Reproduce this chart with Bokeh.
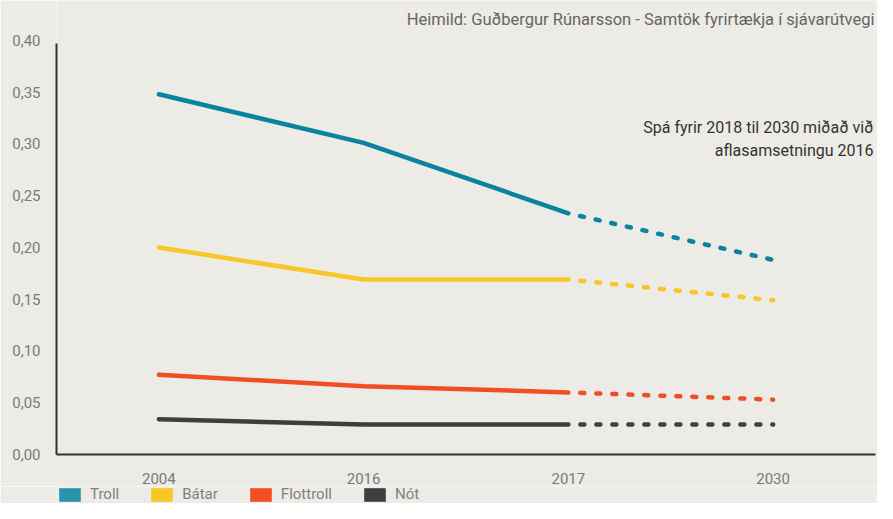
from bokeh.plotting import figure
from bokeh.layouts import column
from bokeh.models import FactorRange, Range1d, FixedTicker, Label, Legend, LegendItem
from bokeh.embed import file_html
from bokeh.resources import INLINE

# ---- data ----
years = ["2004", "2016", "2017", "2030"]
troll = [0.348, 0.301, 0.233, 0.188]
batar = [0.200, 0.169, 0.169, 0.149]
flottroll = [0.077, 0.066, 0.060, 0.053]
not_vals = [0.034, 0.029, 0.029, 0.029]
series_names = ["Troll", "Bátar", "Flottroll", "Nót"]
y_ticks = [0.0, 0.05, 0.1, 0.15, 0.2, 0.25, 0.3, 0.35, 0.4]
y_tick_labels = ["0,00", "0,05", "0,10", "0,15", "0,20", "0,25", "0,30", "0,35", "0,40"]
source_text = "Heimild: Guðbergur Rúnarsson - Samtök fyrirtækja í sjávarútvegi"
note_lines = ["Spá fyrir 2018 til 2030 miðað við", "aflasamsetningu 2016"]

# ---- style ----
BG = "#ecebe5"
FONT = "Roboto"
line_colors = ["#0a849e", "#f8c626", "#f24e24", "#3d3d3d"]
legend_colors = ["#2a94ac", "#f9c623", "#f24e22", "#3e3e3e"]

# frame spans from the very top so the source text is not clipped
Y_MAX = 0.40
Y_TOP = Y_MAX * 455.0 / 415.0

p = figure(width=877, height=486,
           x_range=FactorRange(factors=years, range_padding=0),
           y_range=Range1d(0, Y_TOP),
           output_backend="svg", toolbar_location=None,
           min_border_left=56, min_border_right=2,
           min_border_top=0, min_border_bottom=31,
           background_fill_color=BG, border_fill_color=BG,
           outline_line_color=None)

p.xgrid.visible = False
p.ygrid.visible = False

for ax in (p.xaxis[0], p.yaxis[0]):
    ax.axis_line_color = "#333333"
    ax.axis_line_width = 2
    ax.major_tick_line_color = None
    ax.minor_tick_line_color = None
    ax.major_label_text_font = FONT
    ax.major_label_text_font_size = "15px"
    ax.major_label_text_color = "#7a7a7a"

p.xaxis[0].major_label_standoff = 12
p.yaxis[0].major_label_standoff = 10
p.yaxis[0].bounds = (0, 0.397)
p.yaxis[0].ticker = FixedTicker(ticks=y_ticks)
p.yaxis[0].major_label_overrides = dict(zip(y_ticks, y_tick_labels))

all_series = [troll, batar, flottroll, not_vals]
for name, vals, lc in zip(series_names, all_series, line_colors):
    p.line(years[:3], vals[:3], line_color=lc, line_width=4.5,
           line_cap="round", line_join="round")
    p.line(years[2:], vals[2:], line_color=lc, line_width=4.5,
           line_cap="round", line_dash="4 12", line_dash_offset=4)

p.add_layout(Label(x=818, y=435, x_units="screen", y_units="screen",
                   text=source_text, text_align="right", text_baseline="middle",
                   text_font=FONT, text_font_size="16.5px", text_color="#666666"))
p.add_layout(Label(x=817, y=327, x_units="screen", y_units="screen",
                   text=note_lines[0], text_align="right", text_baseline="middle",
                   text_font=FONT, text_font_size="16px", text_color="#333333"))
p.add_layout(Label(x=817, y=304, x_units="screen", y_units="screen",
                   text=note_lines[1], text_align="right", text_baseline="middle",
                   text_font=FONT, text_font_size="16px", text_color="#333333"))

# ---- legend strip ----
lf = figure(width=877, height=17, x_range=Range1d(0, 1), y_range=Range1d(0, 1),
            x_axis_type=None, y_axis_type=None,
            output_backend="svg", toolbar_location=None,
            min_border=0, min_border_left=0, min_border_right=0,
            min_border_top=0, min_border_bottom=0,
            background_fill_color=BG, border_fill_color=BG,
            outline_line_color=None)
lf.xgrid.visible = False
lf.ygrid.visible = False
legend_items = []
for name, gc in zip(series_names, legend_colors):
    # hidden proxy renderer: only its style is used by the legend swatch
    r = lf.rect(x=[0], y=[0], width=[0], height=[0], fill_color=gc,
                line_color=None, visible=False)
    legend_items.append(LegendItem(label=name, renderers=[r]))

legend = Legend(items=legend_items, orientation="horizontal",
                location=(0, 0), padding=0, margin=0, spacing=29,
                glyph_width=27, glyph_height=17, label_height=17,
                label_standoff=7,
                label_text_font=FONT, label_text_font_size="15px",
                label_text_color="#808080",
                border_line_color=None, background_fill_alpha=0)
lf.add_layout(legend)

layout = column(p, lf, spacing=0)
open("out.html", "w").write(file_html(layout, INLINE))
